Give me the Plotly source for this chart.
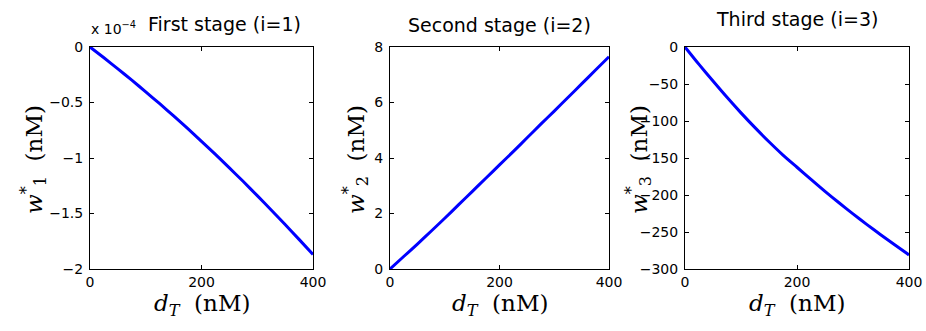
import plotly.graph_objects as go

# ---- data ----
d_T = [0, 25, 50, 75, 100, 125, 150, 175, 200, 225, 250, 275, 300, 325, 350, 375, 400]
w1 = [0, -0.097e-4, -0.197e-4, -0.299e-4, -0.404e-4, -0.511e-4, -0.621e-4, -0.734e-4, -0.850e-4,
      -0.968e-4, -1.089e-4, -1.212e-4, -1.339e-4, -1.468e-4, -1.599e-4, -1.733e-4, -1.870e-4]
w2 = [0, 0.45, 0.90, 1.36, 1.83, 2.31, 2.79, 3.27, 3.75, 4.23, 4.72, 5.21, 5.69, 6.18, 6.67, 7.16, 7.65]
w3 = [0, -23.5, -46.0, -68.0, -89.0, -109.0, -128.0, -146.0, -162.5, -179.0, -195.0, -210.5,
      -225.5, -240.0, -254.0, -267.5, -281.0]

x_tickvals = [0, 200, 400]
w1_tickvals = [0, -0.5e-4, -1e-4, -1.5e-4, -2e-4]
w1_ticktext = ["0", "\u22120.5", "\u22121", "\u22121.5", "\u22122"]
w2_tickvals = [0, 2, 4, 6, 8]
w3_tickvals = [0, -50, -100, -150, -200, -250, -300]

titles = ["First stage (i=1)", "Second stage (i=2)", "Third stage (i=3)"]
ytitles = ["<i>w</i><sup>*</sup><sub>1</sub>&nbsp;&nbsp;(nM)",
           "<i>w</i><sup>*</sup><sub>2</sub>&nbsp;&nbsp;(nM)",
           "<i>w</i><sup>*</sup><sub>3</sub>&nbsp;&nbsp;(nM)"]
xtitle = "<i>d</i><sub><i>T</i></sub>&nbsp;&nbsp;(nM)"
exponent_label = "x 10<sup>\u22124</sup>"

# ---- layout geometry (pixels) ----
W, H = 926, 331
px = lambda v: v / W
py = lambda v: 1 - v / H
panels_x = [(90, 313), (390, 609), (685, 909)]
top, bottom = 47, 269

fig = go.Figure()
series = [w1, w2, w3]
for i, ys in enumerate(series):
    s = "" if i == 0 else str(i + 1)
    fig.add_trace(go.Scatter(x=d_T, y=ys, mode="lines",
                             line=dict(color="#0000ff", width=3, shape="spline", smoothing=0.6),
                             xaxis="x" + s, yaxis="y" + s, showlegend=False))

tickfont = dict(family="DejaVu Sans", size=14, color="black")
axis_common = dict(showline=True, linecolor="black", linewidth=1, mirror="ticks",
                   ticks="inside", ticklen=4, tickcolor="black", showgrid=False,
                   zeroline=False, tickfont=tickfont, automargin=False)

yranges = [[-2e-4, 0], [0, 8], [-300, 0]]
yticks = [dict(tickvals=w1_tickvals, ticktext=w1_ticktext),
          dict(tickvals=w2_tickvals),
          dict(tickvals=w3_tickvals)]

layout = dict(template="none", width=W, height=H, margin=dict(l=0, r=0, t=0, b=0, autoexpand=False),
              plot_bgcolor="white", paper_bgcolor="white", showlegend=False,
              font=dict(family="DejaVu Sans", color="black"))
for i in range(3):
    s = "" if i == 0 else str(i + 1)
    x0, x1 = panels_x[i]
    layout["xaxis" + s] = dict(domain=[px(x0), px(x1)], range=[0, 400], tickvals=x_tickvals,
                               anchor="y" + s, ticklabelstandoff=0, **axis_common)
    layout["yaxis" + s] = dict(domain=[py(bottom), py(top)], range=yranges[i],
                               anchor="x" + s, ticklabelstandoff=3, **yticks[i], **axis_common)
fig.update_layout(**layout)

title_font = dict(family="DejaVu Sans", size=19, color="black")
label_font = dict(family="DejaVu Serif", size=23, color="black")
ann = []
title_pos = [(224, 24), (499, 25), (797, 19)]
ytitle_x = [33, 355, 638]
for i in range(3):
    x0, x1 = panels_x[i]
    ann.append(dict(text=titles[i], x=px(title_pos[i][0]), y=py(title_pos[i][1]),
                    xref="paper", yref="paper", showarrow=False, font=title_font,
                    xanchor="center", yanchor="middle"))
    ann.append(dict(text=xtitle, x=px((x0 + x1) / 2), y=py(305), xref="paper", yref="paper",
                    showarrow=False, font=label_font, xanchor="center", yanchor="middle"))
    ann.append(dict(text=ytitles[i], x=px(ytitle_x[i]), y=py(160), xref="paper", yref="paper",
                    showarrow=False, font=label_font, textangle=-90,
                    xanchor="center", yanchor="middle"))
ann.append(dict(text=exponent_label, x=px(89), y=py(28), xref="paper", yref="paper",
                showarrow=False, font=dict(family="DejaVu Sans", size=14, color="black"),
                xanchor="left", yanchor="middle"))
fig.update_layout(annotations=ann)

fig.write_html("out.html", config={"displayModeBar": False},
               post_script="document.body.style.margin='0';")
